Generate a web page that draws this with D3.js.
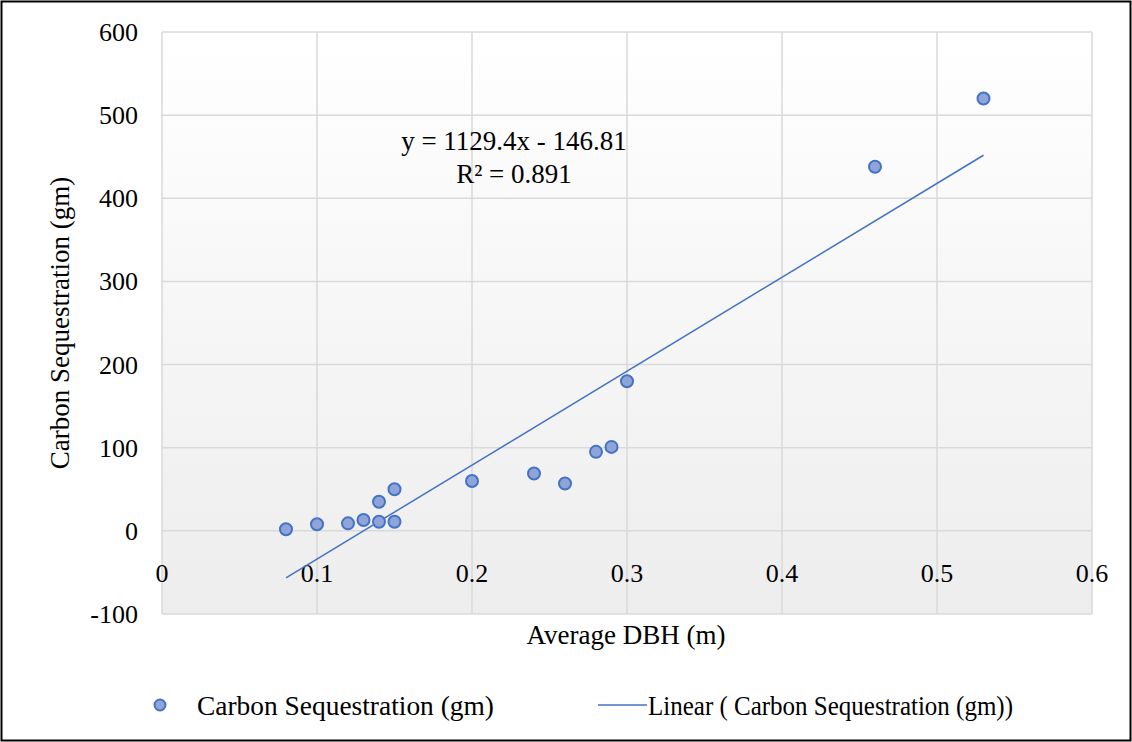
<!DOCTYPE html>
<html>
<head>
  <meta charset="utf-8">
  <title>Carbon Sequestration vs Average DBH</title>
  <style>
    body { margin: 0; background: #fff; }
  </style>
</head>
<body>
  <svg width="1132" height="742"></svg>
  <script src="https://d3js.org/d3.v7.min.js"></script>
  <script>
  // data
  const dbh    = [0.08, 0.10, 0.12, 0.13, 0.14, 0.14, 0.15, 0.15, 0.20, 0.24, 0.26, 0.28, 0.29, 0.30, 0.46, 0.53];
  const carbon = [2, 8, 9, 13, 35, 11, 50, 11, 60, 69, 57, 95, 101, 180, 438, 520];
  const xTicks = [0, 0.1, 0.2, 0.3, 0.4, 0.5, 0.6];
  const yTicks = [-100, 0, 100, 200, 300, 400, 500, 600];
  const slope = 1129.4, intercept = -146.81, r2 = 0.891;

  const svg = d3.select("svg");
  const W = 1132, H = 742;
  const plot = { left: 162, top: 32, right: 1092, bottom: 614 };
  const font = "'Liberation Serif'";

  // outer frame
  svg.append("rect")
    .attr("x", 1.5).attr("y", 1.5)
    .attr("width", W - 3).attr("height", H - 3)
    .attr("fill", "#fff").attr("stroke", "#000").attr("stroke-width", 2);

  // background gradient of plot area
  const defs = svg.append("defs");
  const grad = defs.append("linearGradient")
    .attr("id", "bg").attr("x1", 0).attr("y1", 0).attr("x2", 0).attr("y2", 1);
  grad.append("stop").attr("offset", "0%").attr("stop-color", "#ffffff");
  grad.append("stop").attr("offset", "100%").attr("stop-color", "#ededed");

  const x = d3.scaleLinear().domain([0, 0.6]).range([plot.left, plot.right]);
  const y = d3.scaleLinear().domain([-100, 600]).range([plot.bottom, plot.top]);

  svg.append("rect")
    .attr("x", plot.left).attr("y", plot.top)
    .attr("width", plot.right - plot.left).attr("height", plot.bottom - plot.top)
    .attr("fill", "url(#bg)");

  // gridlines
  svg.append("g").selectAll("line").data(xTicks).join("line")
    .attr("x1", d => x(d)).attr("x2", d => x(d))
    .attr("y1", plot.top).attr("y2", plot.bottom)
    .attr("stroke", "#d9d9d9").attr("stroke-width", 1.5);
  svg.append("g").selectAll("line").data(yTicks).join("line")
    .attr("x1", plot.left).attr("x2", plot.right)
    .attr("y1", d => y(d)).attr("y2", d => y(d))
    .attr("stroke", "#d9d9d9").attr("stroke-width", 1.5);

  function label(sel, size) {
    return sel.style("font-family", font).style("font-size", size + "px").attr("fill", "#000");
  }

  // tick labels
  svg.append("g").selectAll("text").data(yTicks).join("text")
    .attr("x", 138).attr("y", d => y(d) + 9)
    .attr("text-anchor", "end")
    .call(label, 26)
    .text(d => d);
  svg.append("g").selectAll("text").data(xTicks).join("text")
    .attr("x", d => x(d)).attr("y", 582)
    .attr("text-anchor", "middle")
    .call(label, 26)
    .text(d => d);

  // axis titles
  svg.append("text")
    .attr("x", 626).attr("y", 644)
    .attr("text-anchor", "middle")
    .call(label, 27)
    .text("Average DBH (m)");
  svg.append("text")
    .attr("transform", "translate(69," + y(250) + ") rotate(-90)")
    .attr("text-anchor", "middle")
    .call(label, 27)
    .text("Carbon Sequestration (gm)");

  // trendline
  const xr = d3.extent(dbh);
  svg.append("line")
    .attr("x1", x(xr[0])).attr("y1", y(slope * xr[0] + intercept))
    .attr("x2", x(xr[1])).attr("y2", y(slope * xr[1] + intercept))
    .attr("stroke", "#4472c4").attr("stroke-width", 1.5);

  // points
  svg.append("g").selectAll("circle").data(dbh).join("circle")
    .attr("cx", d => x(d)).attr("cy", (d, i) => y(carbon[i]))
    .attr("r", 6)
    .attr("fill", "#8fa5d9").attr("stroke", "#4472c4").attr("stroke-width", 2);

  // equation label
  svg.append("text")
    .attr("x", 514).attr("y", 150)
    .attr("text-anchor", "middle")
    .call(label, 27)
    .text("y = " + slope + "x - " + Math.abs(intercept));
  svg.append("text")
    .attr("x", 514).attr("y", 183)
    .attr("text-anchor", "middle")
    .call(label, 27)
    .text("R² = " + r2);

  // legend
  const lg = svg.append("g");
  lg.append("circle").attr("cx", 160).attr("cy", 705).attr("r", 5.5)
    .attr("fill", "#8fa5d9").attr("stroke", "#4472c4").attr("stroke-width", 2);
  lg.append("text").attr("x", 197).attr("y", 715)
    .call(label, 27)
    .attr("textLength", 297).attr("lengthAdjust", "spacingAndGlyphs")
    .text("Carbon Sequestration (gm)");
  lg.append("line").attr("x1", 598).attr("x2", 647).attr("y1", 705).attr("y2", 705)
    .attr("stroke", "#4472c4").attr("stroke-width", 1.5);
  lg.append("text").attr("x", 648).attr("y", 715)
    .call(label, 27)
    .attr("textLength", 365).attr("lengthAdjust", "spacingAndGlyphs")
    .text("Linear ( Carbon Sequestration (gm))");
  </script>
</body>
</html>
